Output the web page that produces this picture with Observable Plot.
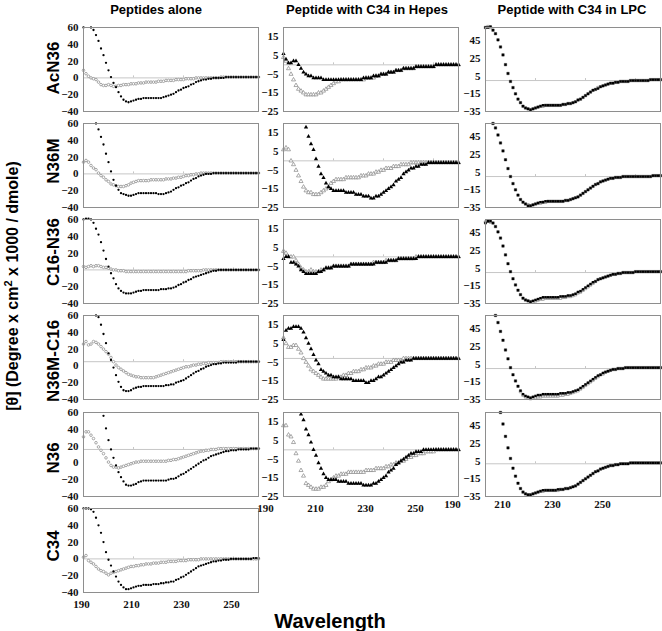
<!DOCTYPE html>
<html><head><meta charset="utf-8">
<script src="https://cdn.jsdelivr.net/npm/d3@7"></script>
<script src="https://cdn.jsdelivr.net/npm/@observablehq/plot@0.6"></script>
<style>
body{margin:0;background:#fff;}
#root{position:relative;width:662px;height:631px;overflow:hidden;background:#fff;}
</style></head><body><div id="root"></div>
<script>
const wavelength = d3.range(190, 261);
const peptides = ["AcN36", "N36M", "C16-N36", "N36M-C16", "N36", "C34"];
const columnTitles = ["Peptides alone", "Peptide with C34 in Hepes", "Peptide with C34 in LPC"];
const yTicks = [[-40, -20, 0, 20, 40, 60], [-25, -15, -5, 5, 15], [-35, -15, 5, 25, 45]];
const yDomains = [[-40, 60], [-25, 20], [-35, 60]];
const xTickLabels = [190, 210, 230, 250];
const axisCross = [[0, 0, 0, 5, 16, 0], [0, 0, 0, -3, 0], [0, 0, 0, 0, 2]];

// Peptides alone (filled = peptide, open = second trace)
const alone_AcN36_filled = [
60, null, null, 60, 57, 51, 44, 35, 27, 18,
9, 1, -6, -11, -17, -22, -26, -28, -29, -28,
-27, -26, -25, -25, -24, -24, -24, -24, -24, -24,
-24, -24, -23, -22, -21, -20, -19, -17, -15, -14,
-12, -11, -10, -8, -7, -5, -4, -3, -2, -2,
-1, -1, 0, 0, 0, 0, 0, 1, 1, 1,
1, 1, 1, 1, 1, 1, 1, 1, 1, 1,
1];
const alone_AcN36_open = [
9, 5, 2, 0, -1, -2, -5, -8, -9, -9,
-8, -9, -10, -10, -9, -9, -8, -8, -8, -7,
-7, -7, -6, -6, -6, -5, -5, -5, -5, -5,
-4, -4, -4, -3, -3, -3, -3, -2, -2, -2,
-2, -1, -1, -1, -1, 0, 0, 0, 0, 0,
0, 0, 0, 0, 0, 1, 1, 1, 1, 1,
1, 1, 1, 1, 1, 1, 1, 1, 1, 1,
1];
const alone_N36M_filled = [
null, null, null, null, null, 60, 53, 44, 35, 24,
14, 3, -7, -14, -19, -23, -24, -25, -26, -26,
-25, -24, -23, -23, -23, -23, -23, -23, -23, -23,
-24, -24, -24, -23, -22, -21, -19, -17, -16, -14,
-13, -11, -10, -8, -6, -5, -3, -2, -1, 0,
0, 0, 1, 1, 1, 1, 1, 1, 1, 1,
1, 1, 1, 1, 1, 1, 1, 1, 1, 1,
1];
const alone_N36M_open = [
14, 16, 14, 10, 7, 5, 1, -2, -4, -7,
-9, -12, -13, -14, -15, -15, -15, -14, -13, -11,
-10, -9, -8, -8, -8, -8, -8, -7, -7, -7,
-7, -7, -7, -6, -6, -6, -5, -5, -4, -4,
-3, -2, -2, -1, -1, 0, 0, 1, 1, 1,
1, 1, 1, 1, 1, 1, 1, 1, 1, 1,
1, 1, 1, 1, 1, 1, 1, 1, 1, 1,
1];
const alone_C16N36_filled = [
60, 61, 61, 60, 56, 49, 42, 33, 23, 13,
4, -4, -10, -17, -22, -25, -27, -28, -28, -28,
-27, -26, -25, -25, -24, -24, -24, -24, -24, -24,
-24, -23, -23, -23, -22, -22, -21, -20, -18, -17,
-15, -14, -12, -11, -9, -8, -7, -6, -5, -4,
-3, -2, -1, -1, 0, 0, 0, 0, 0, 0,
0, 0, 0, 0, 0, 0, 0, 0, 0, 0,
0];
const alone_C16N36_open = [
4, 3, 4, 5, 4, 5, 5, 4, 3, 3,
2, 1, 0, 0, -1, -1, -1, -2, -2, -2,
-2, -2, -2, -2, -2, -2, -2, -2, -2, -2,
-2, -2, -2, -2, -2, -2, -2, -2, -2, -2,
-2, -2, -1, -1, -1, -1, -1, -1, 0, 0,
0, 0, 0, 0, 0, 0, 0, 0, 0, 0,
0, 0, 0, 0, 0, 0, 0, 0, 0, 0,
0];
const alone_N36MC16_filled = [
null, null, null, null, null, 60, 58, 49, 38, 27,
15, 7, -2, -11, -19, -25, -29, -30, -30, -29,
-27, -26, -25, -25, -24, -24, -24, -24, -24, -24,
-24, -24, -24, -23, -23, -22, -22, -20, -19, -18,
-17, -15, -13, -11, -9, -7, -6, -4, -3, -1,
0, 1, 2, 2, 3, 3, 4, 4, 4, 4,
4, 4, 5, 5, 5, 5, 5, 5, 5, 5,
5];
const alone_N36MC16_open = [
26, 29, 25, 26, 29, 28, 26, 23, 20, 17,
14, 10, 5, 1, -2, -4, -6, -8, -10, -11,
-12, -13, -13, -14, -14, -14, -14, -14, -14, -13,
-12, -11, -10, -9, -8, -7, -6, -5, -4, -3,
-2, -1, -1, 0, 1, 1, 2, 2, 3, 3,
4, 4, 4, 4, 4, 5, 5, 5, 5, 5,
5, 5, 5, 5, 5, 5, 5, 5, 5, 5,
5];
const alone_N36_filled = [
null, null, null, null, null, null, null, null, 56, 41,
27, 16, 6, -3, -11, -17, -22, -26, -27, -27,
-26, -25, -23, -22, -21, -21, -21, -21, -21, -21,
-21, -21, -21, -21, -20, -19, -19, -18, -16, -14,
-13, -11, -9, -7, -5, -3, -1, 1, 3, 4,
6, 8, 9, 10, 11, 12, 13, 14, 14, 15,
15, 15, 16, 16, 16, 16, 16, 17, 17, 17,
17];
const alone_N36_open = [
31, 37, 37, 33, 29, 24, 19, 15, 11, 6,
1, -3, -5, -5, -6, -5, -4, -3, -2, -1,
0, 1, 1, 2, 2, 2, 2, 2, 2, 2,
2, 2, 2, 2, 3, 3, 4, 4, 5, 6,
7, 8, 9, 10, 11, 12, 13, 14, 14, 15,
15, 16, 16, 16, 17, 17, 17, 17, 17, 17,
17, 17, 17, 17, 17, 17, 17, 17, 17, 17,
17];
const alone_C34_filled = [
60, 60, 60, 59, 56, 49, 40, 31, 20, 8,
-1, -8, -15, -21, -27, -31, -34, -36, -36, -35,
-34, -33, -32, -32, -31, -31, -31, -31, -30, -30,
-30, -29, -29, -28, -28, -27, -27, -25, -24, -22,
-21, -19, -17, -15, -13, -11, -9, -8, -7, -6,
-5, -4, -3, -3, -2, -2, -1, -1, -1, 0,
0, 0, 0, 0, 0, 0, 0, 0, 1, 1,
1];
const alone_C34_open = [
2, 4, -2, -4, -6, -9, -12, -14, -15, -17,
-19, -17, -16, -15, -14, -13, -12, -11, -10, -9,
-9, -8, -8, -7, -7, -6, -6, -6, -5, -5,
-5, -4, -4, -4, -3, -3, -3, -3, -2, -2,
-2, -2, -1, -1, -1, -1, -1, 0, 0, 0,
0, 0, 0, 0, 0, 0, 0, 0, 0, 0,
0, 0, 0, 0, 0, 0, 0, 0, 0, 0,
0];

// Peptide with C34 in Hepes
const hepes_AcN36_filled = [
6, 3, 1, 1, 2, 2, 0, -2, -4, -5,
-6, -6, -7, -7, -7, -7, -8, -8, -8, -8,
-8, -8, -8, -8, -8, -8, -8, -8, -8, -8,
-8, -8, -7, -7, -7, -7, -6, -6, -6, -5,
-5, -5, -4, -4, -4, -3, -3, -3, -2, -2,
-2, -2, -2, -1, -1, -1, -1, -1, -1, -1,
-1, 0, 0, 0, 0, 0, 0, 0, 0, 0,
0];
const hepes_AcN36_open = [
4, 2, -2, -5, -8, -11, -13, -14, -15, -16,
-16, -16, -16, -16, -15, -15, -14, -13, -12, -11,
-10, -9, -9, -8, -8, -8, -8, -8, -8, -8,
-8, -8, -8, -7, -7, -7, -7, -6, -6, -5,
-5, -5, -4, -4, -4, -3, -3, -3, -2, -2,
-2, -2, -2, -1, -1, -1, -1, -1, -1, -1,
-1, 0, 0, 0, 0, 0, 0, 0, 0, 0,
0];
const hepes_N36M_filled = [
null, null, null, null, null, null, null, null, null, 18,
13, 9, 6, 1, -3, -7, -9, -12, -14, -15,
-16, -16, -16, -16, -16, -17, -17, -17, -17, -18,
-18, -18, -19, -19, -19, -20, -20, -19, -19, -18,
-17, -16, -15, -14, -13, -11, -10, -9, -7, -6,
-5, -4, -4, -3, -3, -2, -2, -2, -1, -1,
-1, -1, -1, -1, -1, -1, -1, -1, -1, -1,
-1];
const hepes_N36M_open = [
6, 7, 6, 0, -2, -5, -8, -11, -14, -16,
-17, -17, -18, -18, -18, -17, -16, -15, -14, -12,
-11, -10, -10, -10, -10, -9, -9, -9, -9, -9,
-9, -8, -8, -8, -7, -7, -7, -6, -6, -5,
-5, -4, -4, -4, -3, -3, -3, -2, -2, -2,
-2, -1, -1, -1, -1, -1, -1, -1, -1, -1,
-1, -1, -1, -1, -1, -1, -1, -1, -1, -1,
-1];
const hepes_C16N36_filled = [
-1, 0, 0, -3, -3, -4, -5, -7, -8, -9,
-9, -9, -9, -9, -8, -8, -7, -6, -6, -6,
-5, -5, -5, -5, -5, -5, -5, -4, -4, -4,
-4, -4, -4, -4, -4, -4, -4, -3, -3, -3,
-3, -3, -2, -2, -2, -2, -1, -1, -1, -1,
-1, -1, -1, -1, 0, 0, 0, 0, 0, 0,
0, 0, 0, 0, 0, 0, 0, 0, 0, 0,
0];
const hepes_C16N36_open = [
3, 2, 0, 0, 0, -2, -4, -6, -7, -8,
-8, -7, -8, -8, -8, -7, -7, -6, -6, -6,
-5, -5, -5, -5, -5, -5, -5, -4, -4, -4,
-4, -4, -4, -4, -4, -4, -3, -3, -3, -3,
-3, -2, -2, -2, -2, -2, -1, -1, -1, -1,
-1, -1, -1, 0, 0, 0, 0, 0, 0, 0,
0, 0, 0, 0, 0, 0, 0, 0, 0, 0,
0];
const hepes_N36MC16_filled = [
7, 12, 13, 13, 14, 14, 14, 13, 11, 8,
5, 2, -1, -4, -6, -9, -10, -11, -12, -12,
-13, -13, -13, -14, -14, -14, -14, -14, -15, -15,
-15, -15, -15, -16, -16, -15, -15, -14, -13, -13,
-12, -11, -10, -9, -8, -7, -6, -5, -5, -4,
-4, -4, -3, -3, -3, -3, -3, -3, -3, -3,
-3, -3, -3, -3, -3, -3, -3, -3, -3, -3,
-3];
const hepes_N36MC16_open = [
8, 5, 3, 3, 4, 4, 2, 0, -3, -5,
-7, -9, -10, -11, -12, -13, -14, -14, -14, -14,
-14, -14, -13, -13, -12, -12, -11, -11, -10, -10,
-10, -9, -9, -8, -8, -8, -7, -7, -6, -6,
-6, -5, -5, -5, -4, -4, -4, -4, -3, -3,
-3, -3, -3, -3, -3, -3, -3, -3, -3, -3,
-3, -3, -3, -3, -3, -3, -3, -3, -3, -3,
-3];
const hepes_N36_filled = [
null, null, null, null, null, null, null, 19, 16, 11,
8, 4, 0, -3, -7, -10, -13, -15, -16, -16,
-16, -16, -17, -17, -17, -17, -18, -18, -18, -18,
-18, -18, -19, -19, -19, -19, -18, -18, -17, -16,
-15, -14, -12, -11, -10, -8, -7, -6, -5, -4,
-3, -2, -2, -1, -1, -1, 0, 0, 0, 0,
0, 0, 0, 0, 0, 0, 0, 0, 0, 0,
0];
const hepes_N36_open = [
13, 13, 8, 7, 4, -2, -6, -11, -14, -18,
-19, -20, -21, -21, -21, -20, -20, -19, -17, -16,
-15, -14, -14, -13, -13, -13, -12, -12, -12, -12,
-12, -12, -12, -11, -11, -11, -11, -10, -10, -10,
-10, -9, -9, -8, -8, -7, -7, -6, -6, -5,
-4, -4, -3, -3, -2, -2, -2, -1, -1, -1,
-1, 0, 0, 0, 0, 0, 0, 0, 0, 0,
0];

// Peptide with C34 in LPC
const lpc_AcN36_filled = [
60, 60, 61, 57, 53, 46, 38, 29, 18, 8,
-1, -8, -15, -21, -25, -29, -31, -32, -33, -32,
-31, -30, -29, -28, -28, -28, -28, -28, -28, -28,
-28, -27, -27, -26, -26, -25, -24, -22, -21, -19,
-17, -15, -13, -11, -10, -9, -7, -6, -5, -4,
-3, -3, -2, -2, -1, -1, -1, -1, 0, 0,
0, 0, 0, 0, 0, 0, 1, 1, 1, 1,
1];
const lpc_AcN36_open = [
60, 61, 60, 57, 53, 46, 38, 29, 18, 8,
-1, -8, -15, -21, -25, -29, -31, -32, -33, -32,
-31, -30, -29, -29, -28, -28, -28, -28, -28, -28,
-28, -27, -27, -26, -26, -25, -24, -22, -21, -19,
-17, -15, -13, -11, -10, -8, -7, -6, -5, -4,
-3, -3, -2, -2, -1, -1, -1, -1, 0, 0,
0, 0, 0, 0, 0, 0, 1, 1, 1, 1,
1];
const lpc_N36M_filled = [
null, null, null, 60, 55, 47, 38, 29, 19, 9,
0, -8, -15, -21, -26, -29, -31, -33, -33, -32,
-31, -30, -29, -29, -28, -28, -28, -28, -28, -28,
-28, -28, -27, -27, -26, -25, -24, -23, -21, -19,
-17, -15, -13, -11, -9, -8, -6, -5, -4, -3,
-2, -2, -1, -1, -1, 0, 0, 0, 0, 0,
0, 0, 0, 0, 0, 0, 0, 1, 1, 1,
1];
const lpc_N36M_open = [
null, null, null, 60, 55, 47, 38, 29, 19, 9,
0, -8, -15, -21, -26, -29, -31, -32, -33, -32,
-31, -30, -30, -29, -29, -28, -28, -28, -28, -28,
-28, -28, -27, -27, -26, -25, -24, -23, -21, -19,
-17, -15, -13, -11, -9, -8, -6, -5, -4, -3,
-2, -2, -1, -1, -1, 0, 0, 0, 0, 0,
0, 0, 0, 0, 0, 0, 0, 1, 1, 1,
1];
const lpc_C16N36_filled = [
56, 58, 58, 56, 52, 46, 39, 30, 20, 10,
1, -7, -14, -20, -25, -29, -31, -32, -33, -32,
-31, -30, -29, -28, -28, -28, -28, -28, -28, -28,
-27, -27, -27, -26, -26, -25, -24, -22, -21, -19,
-17, -15, -13, -11, -10, -8, -7, -6, -5, -4,
-3, -2, -2, -1, -1, 0, 0, 0, 0, 0,
1, 1, 1, 1, 1, 1, 1, 1, 1, 1,
1];
const lpc_C16N36_open = [
57, 58, 57, 56, 52, 46, 39, 30, 20, 10,
1, -7, -14, -20, -25, -29, -31, -32, -33, -33,
-32, -31, -30, -30, -29, -29, -29, -29, -29, -29,
-29, -28, -28, -27, -27, -26, -25, -23, -22, -20,
-18, -16, -14, -12, -10, -8, -7, -6, -5, -4,
-3, -2, -2, -1, -1, 0, 0, 0, 0, 0,
1, 1, 1, 1, 1, 1, 1, 1, 1, 1,
1];
const lpc_N36MC16_filled = [
null, null, null, null, 60, 52, 42, 32, 21, 11,
1, -7, -14, -20, -25, -29, -31, -32, -33, -32,
-31, -30, -30, -29, -29, -29, -29, -29, -29, -29,
-28, -28, -28, -27, -27, -26, -25, -24, -22, -20,
-18, -16, -14, -12, -10, -8, -7, -5, -4, -3,
-2, -1, -1, 0, 0, 0, 1, 1, 1, 1,
1, 1, 1, 1, 1, 1, 1, 1, 1, 1,
1];
const lpc_N36MC16_open = [
null, null, null, null, 60, 52, 42, 32, 21, 11,
1, -7, -14, -20, -26, -30, -32, -33, -34, -33,
-33, -32, -32, -31, -31, -31, -31, -31, -31, -31,
-30, -30, -29, -29, -28, -27, -26, -25, -23, -21,
-19, -17, -15, -13, -11, -9, -7, -6, -4, -3,
-2, -1, -1, 0, 0, 0, 1, 1, 1, 1,
1, 1, 1, 1, 1, 1, 1, 1, 1, 1,
1];
const lpc_N36_filled = [
null, null, null, null, null, null, 60, 47, 33, 20,
8, -3, -12, -20, -26, -30, -32, -33, -33, -32,
-31, -30, -29, -28, -28, -28, -28, -28, -28, -27,
-27, -27, -26, -26, -25, -24, -23, -21, -19, -17,
-15, -13, -11, -9, -7, -6, -4, -3, -2, -1,
0, 0, 1, 1, 2, 2, 2, 2, 3, 3,
3, 3, 3, 3, 3, 3, 3, 3, 3, 3,
3];
const lpc_N36_open = [
null, null, null, null, null, null, 60, 47, 33, 20,
8, -3, -12, -20, -26, -30, -32, -33, -33, -32,
-31, -30, -29, -29, -28, -28, -28, -28, -28, -28,
-27, -27, -26, -26, -25, -24, -23, -21, -19, -17,
-15, -13, -11, -9, -7, -6, -4, -3, -2, -1,
0, 0, 1, 1, 2, 2, 2, 2, 3, 3,
3, 3, 3, 3, 3, 3, 3, 3, 3, 3,
3];

const series = [
  [[alone_AcN36_filled, alone_AcN36_open], [alone_N36M_filled, alone_N36M_open], [alone_C16N36_filled, alone_C16N36_open],
   [alone_N36MC16_filled, alone_N36MC16_open], [alone_N36_filled, alone_N36_open], [alone_C34_filled, alone_C34_open]],
  [[hepes_AcN36_filled, hepes_AcN36_open], [hepes_N36M_filled, hepes_N36M_open], [hepes_C16N36_filled, hepes_C16N36_open],
   [hepes_N36MC16_filled, hepes_N36MC16_open], [hepes_N36_filled, hepes_N36_open]],
  [[lpc_AcN36_filled, lpc_AcN36_open], [lpc_N36M_filled, lpc_N36M_open], [lpc_C16N36_filled, lpc_C16N36_open],
   [lpc_N36MC16_filled, lpc_N36MC16_open], [lpc_N36_filled, lpc_N36_open]]
];

// ---- layout ----
const colLeft = [83, 283, 485];
const rowTop = [27, 123, 219, 315, 412, 508];
const PW = 175, PH = 84;
const symbols = ["circle", "triangle", "square"];
const filledR = [1.15, 1.6, 1.4];
const openR = [1.3, 1.5, 1.4];
const xAxisOpts = [{dx: -2, pad: 8}, {dx: -18, pad: 8}, {dx: -33, pad: 4}];
const labelShift = [-1, -4, -9, 4, 4, -4];

const root = document.getElementById("root");

series.forEach((colSeries, col) => {
  colSeries.forEach(([filled, open], row) => {
    const last = row === colSeries.length - 1;
    const mL = 42, mR = 4, mT = 4, mB = last ? 26 : 4;
    const rows = wavelength.map((w, i) => ({w, f: filled[i], o: open[i]}));
    const cross = axisCross[col][row];
    const marks = [
      Plot.ruleY([cross], {stroke: "#c6c6c6", strokeWidth: 1}),
      Plot.ruleX([210, 230, 250], {y1: cross, y2: cross, insetTop: -2, stroke: "#c6c6c6"}),
      Plot.dot(rows.filter(d => d.o != null), {x: "w", y: "o", symbol: symbols[col], r: openR[col], fill: "white", stroke: "#858585", strokeWidth: 0.7}),
      Plot.dot(rows.filter(d => d.f != null), {x: "w", y: "f", symbol: symbols[col], r: filledR[col], fill: "black", stroke: "none"}),
      Plot.frame({stroke: "#8e8e8e"}),
      Plot.axisY(yTicks[col], {tickSize: 0, tickPadding: 5, label: null})
    ];
    if (last) marks.push(Plot.axisX(xTickLabels, {tickSize: 0, tickPadding: xAxisOpts[col].pad, dx: xAxisOpts[col].dx, label: null}));
    const svg = Plot.plot({
      width: PW + mL + mR, height: PH + mT + mB,
      marginLeft: mL, marginRight: mR, marginTop: mT, marginBottom: mB,
      x: {domain: [190, 260], axis: null},
      y: {domain: yDomains[col], axis: null},
      style: {background: "transparent", overflow: "visible", fontFamily: "'Liberation Serif', 'Times New Roman', serif", fontSize: "11px", fontWeight: "bold", color: "#111"},
      marks
    });
    svg.style.position = "absolute";
    svg.style.left = (colLeft[col] - mL) + "px";
    svg.style.top = (rowTop[row] - mT) + "px";
    root.appendChild(svg);
  });
});

// ---- text overlay ----
const ov = d3.select(root).append("svg")
  .attr("width", 662).attr("height", 631)
  .style("position", "absolute").style("left", "0px").style("top", "0px")
  .style("overflow", "visible").style("pointer-events", "none")
  .attr("font-family", "Arial, 'Liberation Sans', sans-serif").attr("font-weight", "bold");

const titleX = [156, 367, 572];
columnTitles.forEach((t, i) => {
  ov.append("text").attr("x", titleX[i]).attr("y", 14).attr("text-anchor", "middle").attr("font-size", 13).text(t);
});
peptides.forEach((p, i) => {
  const cy = rowTop[i] + PH / 2 + labelShift[i];
  ov.append("text").attr("transform", `translate(59,${cy}) rotate(-90)`).attr("text-anchor", "middle").attr("font-size", 17).text(p);
});
const yl = ov.append("text").attr("transform", "translate(18,286) rotate(-90)").attr("text-anchor", "middle").attr("font-size", 16);
yl.append("tspan").text("[θ] (Degree x cm");
yl.append("tspan").attr("dy", -6).attr("font-size", 11).text("2");
yl.append("tspan").attr("dy", 6).text(" x 1000 / dmole)");
ov.append("text").attr("x", 330).attr("y", 628).attr("text-anchor", "middle").attr("font-size", 20).text("Wavelength");
</script></body></html>
